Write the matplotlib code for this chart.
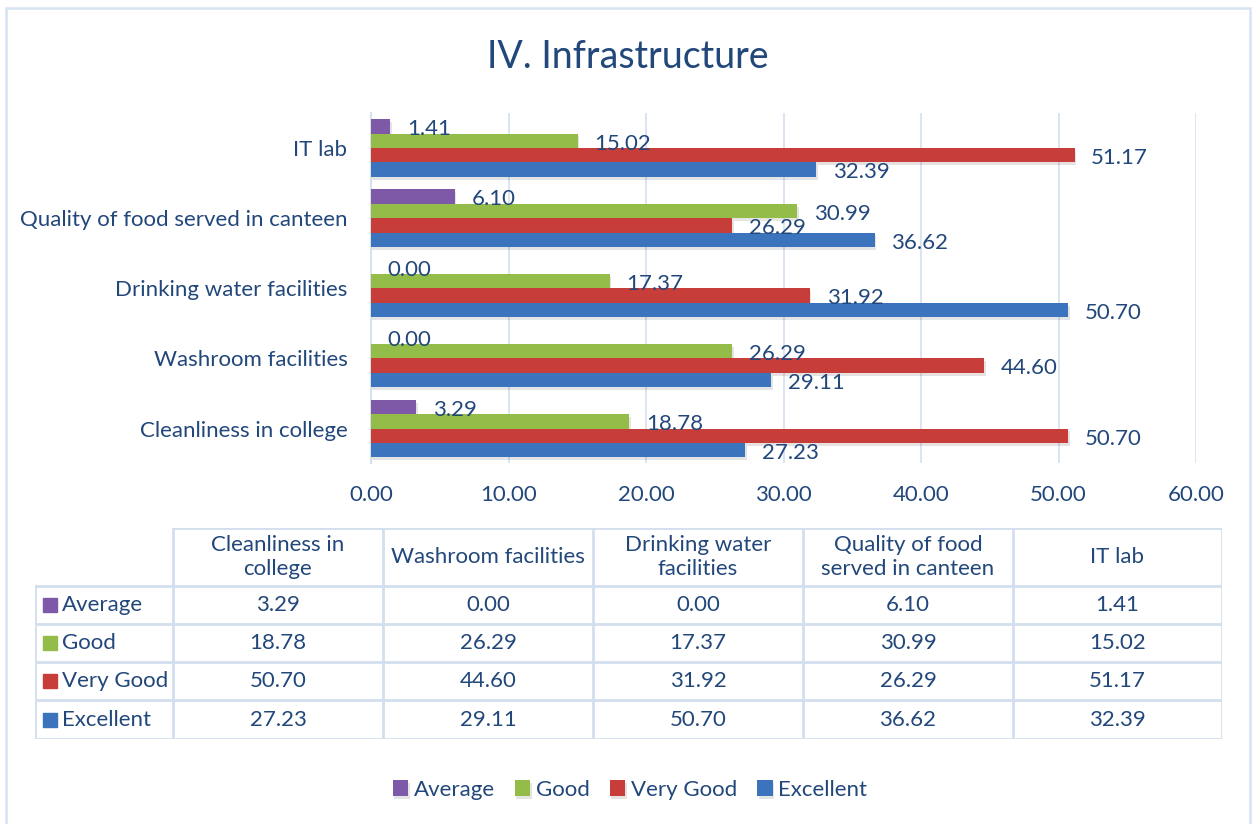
import matplotlib.pyplot as plt
from matplotlib import patheffects
from matplotlib.patches import Rectangle

categories = [
    "Cleanliness in college",
    "Washroom facilities",
    "Drinking water facilities",
    "Quality of food served in canteen",
    "IT lab",
]
table_headers = [
    "Cleanliness in\ncollege",
    "Washroom facilities",
    "Drinking water\nfacilities",
    "Quality of food\nserved in canteen",
    "IT lab",
]
series_names = ["Average", "Good", "Very Good", "Excellent"]
average = [3.29, 0.00, 0.00, 6.10, 1.41]
good = [18.78, 26.29, 17.37, 30.99, 15.02]
very_good = [50.70, 44.60, 31.92, 26.29, 51.17]
excellent = [27.23, 29.11, 50.70, 36.62, 32.39]
x_ticks = [0, 10, 20, 30, 40, 50, 60]

colors = ["#7D59A8", "#93BD48", "#C73D3A", "#3B74BD"]
text_color = "#22477A"
grid_color = "#D7E2F1"

W, H = 1252, 824
FS = 16


def fx(px):
    return px / W


def fy(py):
    return 1 - py / H


def main():
    plt.rcParams["font.family"] = ["Lato", "DejaVu Sans"]

    fig = plt.figure(figsize=(W / 100, H / 100), dpi=100)
    fig.patches.append(
        Rectangle((fx(6), fy(830)), fx(1250) - fx(6), fy(8) - fy(830),
                  transform=fig.transFigure, fill=False, edgecolor="#D6E3F2", lw=1.8)
    )

    fig.text(fx(628), fy(57), "IV. Infrastructure", ha="center", va="center",
             fontsize=27, color=text_color)

    # bar chart
    ax = fig.add_axes([fx(371), fy(463), fx(1196) - fx(371), fy(113) - fy(463)])
    series = [average, good, very_good, excellent]
    h = 0.205
    offsets = [1.5 * h, 0.5 * h, -0.5 * h, -1.5 * h]
    shadow = [patheffects.SimplePatchShadow(offset=(1, -2), alpha=0.12), patheffects.Normal()]
    handles = []
    for name, vals, col, off in zip(series_names, series, colors, offsets):
        ys = [i + off for i in range(len(categories))]
        bars = ax.barh(ys, vals, height=h, color=col, label=name, zorder=3)
        for b in bars:
            b.set_path_effects(shadow)
        handles.append(bars)
        for y, v in zip(ys, vals):
            ax.annotate(f"{v:.2f}", (v, y), xytext=(12, -2), textcoords="offset points",
                        ha="left", va="center", fontsize=FS, color=text_color, zorder=4)

    ax.set_xlim(0, 60)
    ax.set_ylim(-0.49, 4.5)
    ax.set_xticks(x_ticks)
    ax.set_xticklabels([f"{t:.2f}" for t in x_ticks], fontsize=FS, color=text_color)
    ax.set_yticks(range(len(categories)))
    ax.set_yticklabels(categories, fontsize=FS, color=text_color)
    ax.tick_params(axis="x", length=0, pad=16)
    ax.tick_params(axis="y", length=0, pad=17)
    ax.grid(axis="x", color=grid_color, lw=1.3, zorder=0)
    for s in ["top", "right", "bottom"]:
        ax.spines[s].set_visible(False)
    ax.spines["left"].set_color(grid_color)
    ax.spines["left"].set_linewidth(1.5)

    # data table
    col_x = [35, 173, 383, 593, 803, 1013, 1222]
    row_y = [528, 586, 624, 662, 700, 739]
    tab = fig.add_axes([fx(35), fy(739), fx(1222) - fx(35), fy(528) - fy(739)])
    tab.set_xlim(35, 1222)
    tab.set_ylim(739, 528)
    tab.axis("off")
    lc = "#D3DFEF"
    lw = 2
    tab.plot([col_x[1], col_x[-1]], [row_y[0], row_y[0]], color=lc, lw=lw)
    for y in row_y[1:]:
        tab.plot([col_x[0], col_x[-1]], [y, y], color=lc, lw=lw)
    tab.plot([col_x[0], col_x[0]], [row_y[1], row_y[-1]], color=lc, lw=lw)
    for x in col_x[1:]:
        tab.plot([x, x], [row_y[0], row_y[-1]], color=lc, lw=lw)

    for j, head in enumerate(table_headers):
        tab.text((col_x[j + 1] + col_x[j + 2]) / 2, (row_y[0] + row_y[1]) / 2, head,
                 ha="center", va="center", fontsize=FS, color=text_color, linespacing=1.25)
    for i, (name, vals, col) in enumerate(zip(series_names, series, colors)):
        yc = (row_y[i + 1] + row_y[i + 2]) / 2
        tab.add_patch(Rectangle((43, yc - 7), 14, 14, color=col))
        tab.text(62, yc, name, ha="left", va="center", fontsize=FS, color=text_color)
        for j, v in enumerate(vals):
            tab.text((col_x[j + 1] + col_x[j + 2]) / 2, yc, f"{v:.2f}",
                     ha="center", va="center", fontsize=FS, color=text_color)

    fig.legend(handles=handles, labels=series_names, loc="center",
               bbox_to_anchor=(fx(630), fy(790)), ncol=4, frameon=False,
               fontsize=FS, labelcolor=text_color, handlelength=0.7, handleheight=0.7,
               handletextpad=0.25, columnspacing=0.9)

    fig.savefig("out.png", dpi=100)


if __name__ == "__main__":
    main()
